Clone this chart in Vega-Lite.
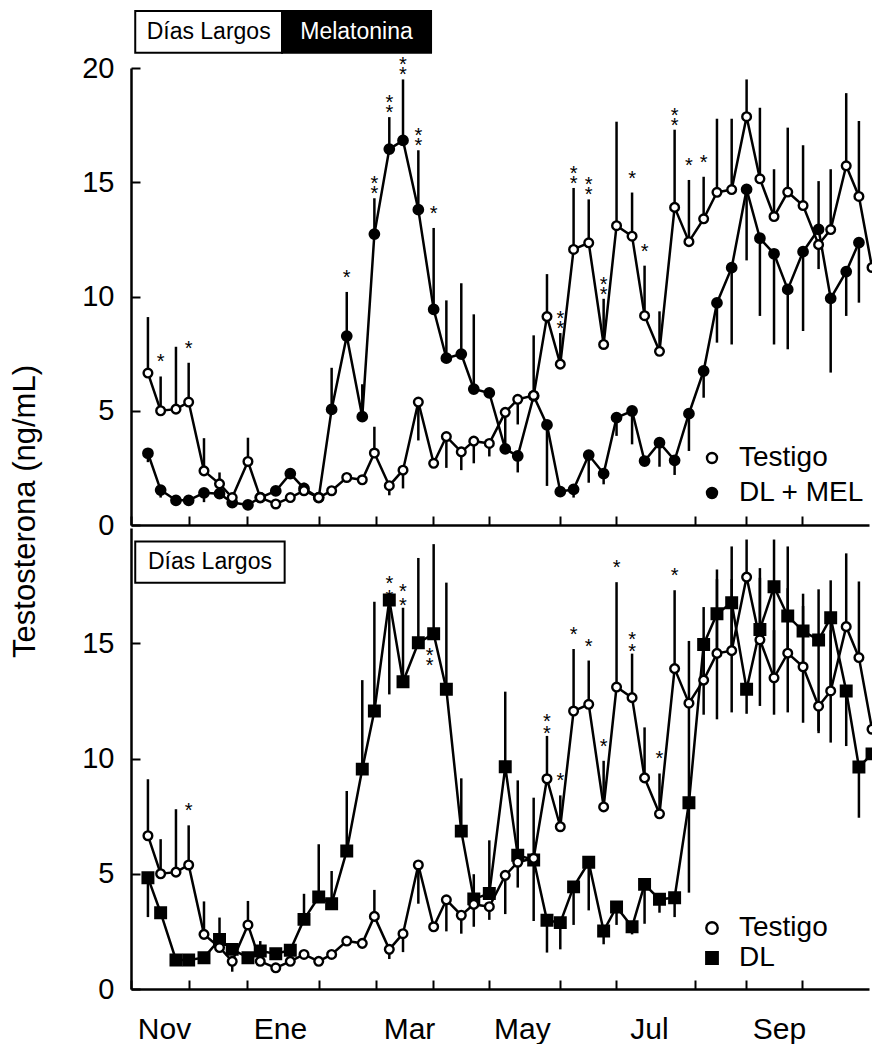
{
"$schema": "https://vega.github.io/schema/vega-lite/v6.json",
"autosize": {"type": "pad"},
"padding": {"left": 9, "top": 10, "right": 0, "bottom": 0},
"background": "white",
"config": {
  "font": "Liberation Sans",
  "view": {"stroke": null},
  "axis": {"grid": false, "domainColor": "black", "domainWidth": 2.5, "tickColor": "black", "tickWidth": 2, "labelColor": "black", "labelFont": "Liberation Sans", "labelFontWeight": "normal", "titleFont": "Liberation Sans", "titleFontWeight": "normal", "titleColor": "black"},
  "legend": {"labelFont": "Liberation Sans", "labelFontSize": 28, "labelColor": "black", "symbolStrokeColor": "black", "symbolStrokeWidth": 2.4, "symbolOpacity": 1, "padding": 0, "offset": 0, "title": null}
},
"bounds": "flush",
"spacing": 3,
"resolve": {"scale": {"fill": "independent", "shape": "independent", "stroke": "independent"}, "legend": {"fill": "independent", "shape": "independent", "stroke": "independent"}},
"datasets": {
"testigo": [
{"series":"Testigo","day":8.4,"value":6.65,"lo":6.65,"hi":9.1},
{"series":"Testigo","day":14.7,"value":5.0,"lo":5.0,"hi":6.5,"sig_mel":"*"},
{"series":"Testigo","day":22.3,"value":5.07,"lo":5.07,"hi":7.8},
{"series":"Testigo","day":28.6,"value":5.38,"lo":5.38,"hi":7.1,"sig_mel":"*","sig_dl":"*"},
{"series":"Testigo","day":36.2,"value":2.37,"lo":2.37,"hi":3.8},
{"series":"Testigo","day":43.9,"value":1.8,"lo":1.8,"hi":2.3},
{"series":"Testigo","day":50.2,"value":1.2,"lo":0.75,"hi":1.2},
{"series":"Testigo","day":58.0,"value":2.78,"lo":2.78,"hi":3.82},
{"series":"Testigo","day":64.1,"value":1.2,"lo":1.2,"hi":1.2},
{"series":"Testigo","day":71.8,"value":0.92,"lo":0.92,"hi":0.92},
{"series":"Testigo","day":79.0,"value":1.2,"lo":1.2,"hi":1.2},
{"series":"Testigo","day":85.8,"value":1.5,"lo":1.5,"hi":1.5},
{"series":"Testigo","day":93.1,"value":1.2,"lo":1.2,"hi":1.2},
{"series":"Testigo","day":99.5,"value":1.5,"lo":1.5,"hi":1.5},
{"series":"Testigo","day":107.0,"value":2.08,"lo":2.08,"hi":2.08},
{"series":"Testigo","day":114.7,"value":1.98,"lo":1.98,"hi":1.98},
{"series":"Testigo","day":120.7,"value":3.15,"lo":3.15,"hi":4.3},
{"series":"Testigo","day":128.1,"value":1.72,"lo":1.3,"hi":1.72},
{"series":"Testigo","day":134.9,"value":2.4,"lo":1.6,"hi":2.4},
{"series":"Testigo","day":142.5,"value":5.38,"lo":3.7,"hi":5.38},
{"series":"Testigo","day":150.1,"value":2.7,"lo":2.7,"hi":2.7},
{"series":"Testigo","day":156.4,"value":3.87,"lo":2.5,"hi":3.87},
{"series":"Testigo","day":163.8,"value":3.2,"lo":2.4,"hi":3.2},
{"series":"Testigo","day":170.0,"value":3.67,"lo":2.7,"hi":3.67},
{"series":"Testigo","day":177.7,"value":3.57,"lo":3.0,"hi":3.57},
{"series":"Testigo","day":185.6,"value":4.93,"lo":3.25,"hi":4.93},
{"series":"Testigo","day":191.8,"value":5.5,"lo":4.4,"hi":5.5},
{"series":"Testigo","day":199.7,"value":5.67,"lo":5.67,"hi":8.3},
{"series":"Testigo","day":206.3,"value":9.12,"lo":9.12,"hi":10.98,"sig_dl":"**"},
{"series":"Testigo","day":212.9,"value":7.04,"lo":7.04,"hi":8.4,"sig_mel":"**","sig_dl":"*"},
{"series":"Testigo","day":219.5,"value":12.06,"lo":12.06,"hi":14.75,"sig_mel":"**","sig_dl":"*"},
{"series":"Testigo","day":227.0,"value":12.35,"lo":12.35,"hi":14.25,"sig_mel":"**","sig_dl":"*"},
{"series":"Testigo","day":234.4,"value":7.9,"lo":7.9,"hi":9.9,"sig_mel":"**","sig_dl":"*"},
{"series":"Testigo","day":240.8,"value":13.1,"lo":13.1,"hi":17.65,"sig_dl":"*"},
{"series":"Testigo","day":248.5,"value":12.64,"lo":12.64,"hi":14.55,"sig_mel":"*","sig_dl":"**"},
{"series":"Testigo","day":254.7,"value":9.16,"lo":9.16,"hi":11.35,"sig_mel":"*"},
{"series":"Testigo","day":262.1,"value":7.6,"lo":7.6,"hi":9.35,"sig_dl":"*"},
{"series":"Testigo","day":269.6,"value":13.9,"lo":13.9,"hi":17.3,"sig_mel":"**","sig_dl":"*"},
{"series":"Testigo","day":276.7,"value":12.4,"lo":12.4,"hi":15.1,"sig_mel":"*"},
{"series":"Testigo","day":284.0,"value":13.4,"lo":13.4,"hi":15.24,"sig_mel":"*"},
{"series":"Testigo","day":290.6,"value":14.56,"lo":14.56,"hi":17.78},
{"series":"Testigo","day":297.9,"value":14.68,"lo":14.68,"hi":17.78},
{"series":"Testigo","day":305.3,"value":17.87,"lo":17.87,"hi":19.5},
{"series":"Testigo","day":311.9,"value":15.15,"lo":15.15,"hi":18.26},
{"series":"Testigo","day":318.9,"value":13.5,"lo":13.5,"hi":15.57},
{"series":"Testigo","day":325.7,"value":14.57,"lo":14.57,"hi":17.39},
{"series":"Testigo","day":333.3,"value":13.98,"lo":13.98,"hi":16.62},
{"series":"Testigo","day":341.0,"value":12.27,"lo":11.2,"hi":12.27},
{"series":"Testigo","day":347.0,"value":12.93,"lo":12.93,"hi":15.57},
{"series":"Testigo","day":354.7,"value":15.72,"lo":15.72,"hi":18.9},
{"series":"Testigo","day":361.0,"value":14.38,"lo":14.38,"hi":17.68},
{"series":"Testigo","day":367.5,"value":11.27,"lo":11.27,"hi":11.27}
],
"dlmel": [
{"series":"DL + MEL","day":8.4,"value":3.14,"lo":2.75,"hi":3.14},
{"series":"DL + MEL","day":14.7,"value":1.53,"lo":1.2,"hi":1.53},
{"series":"DL + MEL","day":22.3,"value":1.08,"lo":1.08,"hi":1.08},
{"series":"DL + MEL","day":28.6,"value":1.08,"lo":1.08,"hi":1.08},
{"series":"DL + MEL","day":36.2,"value":1.41,"lo":1.0,"hi":1.41},
{"series":"DL + MEL","day":43.9,"value":1.37,"lo":1.37,"hi":1.37},
{"series":"DL + MEL","day":50.2,"value":0.98,"lo":0.98,"hi":0.98},
{"series":"DL + MEL","day":58.0,"value":0.88,"lo":0.88,"hi":0.88},
{"series":"DL + MEL","day":64.1,"value":1.2,"lo":1.2,"hi":1.2},
{"series":"DL + MEL","day":71.8,"value":1.49,"lo":1.49,"hi":1.49},
{"series":"DL + MEL","day":79.0,"value":2.25,"lo":2.25,"hi":2.25},
{"series":"DL + MEL","day":85.8,"value":1.6,"lo":1.6,"hi":1.85},
{"series":"DL + MEL","day":93.1,"value":1.2,"lo":1.2,"hi":1.2},
{"series":"DL + MEL","day":99.5,"value":5.06,"lo":5.06,"hi":6.88},
{"series":"DL + MEL","day":107.0,"value":8.27,"lo":8.27,"hi":10.2,"sig":"*"},
{"series":"DL + MEL","day":114.7,"value":4.74,"lo":4.74,"hi":6.16},
{"series":"DL + MEL","day":120.7,"value":12.73,"lo":12.73,"hi":14.3,"sig":"**"},
{"series":"DL + MEL","day":128.1,"value":16.45,"lo":16.45,"hi":17.85,"sig":"**"},
{"series":"DL + MEL","day":134.9,"value":16.83,"lo":16.83,"hi":19.5,"sig":"**"},
{"series":"DL + MEL","day":142.5,"value":13.8,"lo":13.8,"hi":16.4,"sig":"**"},
{"series":"DL + MEL","day":150.1,"value":9.44,"lo":9.44,"hi":13.0,"sig":"*"},
{"series":"DL + MEL","day":156.4,"value":7.3,"lo":7.3,"hi":9.83},
{"series":"DL + MEL","day":163.8,"value":7.48,"lo":7.48,"hi":10.58},
{"series":"DL + MEL","day":170.0,"value":5.95,"lo":5.95,"hi":9.22},
{"series":"DL + MEL","day":177.7,"value":5.78,"lo":5.78,"hi":5.78},
{"series":"DL + MEL","day":185.6,"value":3.33,"lo":3.33,"hi":3.33},
{"series":"DL + MEL","day":191.8,"value":3.02,"lo":2.3,"hi":3.02},
{"series":"DL + MEL","day":199.7,"value":5.65,"lo":5.65,"hi":5.65},
{"series":"DL + MEL","day":206.3,"value":4.38,"lo":1.71,"hi":4.38},
{"series":"DL + MEL","day":212.9,"value":1.46,"lo":1.46,"hi":1.46},
{"series":"DL + MEL","day":219.5,"value":1.56,"lo":1.2,"hi":1.56},
{"series":"DL + MEL","day":227.0,"value":3.06,"lo":1.85,"hi":3.06},
{"series":"DL + MEL","day":234.4,"value":2.25,"lo":1.78,"hi":2.25},
{"series":"DL + MEL","day":240.8,"value":4.7,"lo":3.9,"hi":4.7},
{"series":"DL + MEL","day":248.5,"value":4.99,"lo":3.53,"hi":4.99},
{"series":"DL + MEL","day":254.7,"value":2.8,"lo":2.8,"hi":2.8},
{"series":"DL + MEL","day":262.1,"value":3.6,"lo":2.55,"hi":3.6},
{"series":"DL + MEL","day":269.6,"value":2.83,"lo":2.19,"hi":2.83},
{"series":"DL + MEL","day":276.7,"value":4.87,"lo":3.24,"hi":4.87},
{"series":"DL + MEL","day":284.0,"value":6.74,"lo":5.57,"hi":6.74},
{"series":"DL + MEL","day":290.6,"value":9.72,"lo":7.98,"hi":9.72},
{"series":"DL + MEL","day":297.9,"value":11.26,"lo":7.9,"hi":11.26},
{"series":"DL + MEL","day":305.3,"value":14.69,"lo":11.58,"hi":14.69},
{"series":"DL + MEL","day":311.9,"value":12.55,"lo":9.15,"hi":12.55},
{"series":"DL + MEL","day":318.9,"value":11.87,"lo":7.9,"hi":11.87},
{"series":"DL + MEL","day":325.7,"value":10.31,"lo":7.69,"hi":10.31},
{"series":"DL + MEL","day":333.3,"value":11.96,"lo":8.49,"hi":11.96},
{"series":"DL + MEL","day":341.0,"value":12.94,"lo":12.94,"hi":15.05},
{"series":"DL + MEL","day":347.0,"value":9.92,"lo":6.67,"hi":9.92},
{"series":"DL + MEL","day":354.7,"value":11.09,"lo":9.15,"hi":11.09},
{"series":"DL + MEL","day":361.0,"value":12.36,"lo":9.73,"hi":12.36}
],
"dl": [
{"series":"DL","day":8.4,"value":4.83,"lo":3.12,"hi":4.83},
{"series":"DL","day":14.7,"value":3.31,"lo":3.31,"hi":3.31},
{"series":"DL","day":22.3,"value":1.26,"lo":1.26,"hi":1.26},
{"series":"DL","day":28.6,"value":1.26,"lo":1.26,"hi":1.26},
{"series":"DL","day":36.2,"value":1.36,"lo":1.36,"hi":1.36},
{"series":"DL","day":43.9,"value":2.15,"lo":2.15,"hi":3.1},
{"series":"DL","day":50.2,"value":1.72,"lo":1.72,"hi":1.72},
{"series":"DL","day":58.0,"value":1.36,"lo":1.36,"hi":1.36},
{"series":"DL","day":64.1,"value":1.65,"lo":1.65,"hi":2.08},
{"series":"DL","day":71.8,"value":1.53,"lo":1.53,"hi":1.53},
{"series":"DL","day":79.0,"value":1.68,"lo":1.68,"hi":1.68},
{"series":"DL","day":85.8,"value":3.02,"lo":3.02,"hi":4.13},
{"series":"DL","day":93.1,"value":3.99,"lo":3.99,"hi":6.28},
{"series":"DL","day":99.5,"value":3.7,"lo":3.7,"hi":5.12},
{"series":"DL","day":107.0,"value":5.99,"lo":5.99,"hi":8.59},
{"series":"DL","day":114.7,"value":9.54,"lo":9.54,"hi":13.4},
{"series":"DL","day":120.7,"value":12.06,"lo":12.06,"hi":16.8},
{"series":"DL","day":128.1,"value":16.88,"lo":12.78,"hi":16.88,"sig":"**"},
{"series":"DL","day":134.9,"value":13.33,"lo":13.33,"hi":16.54,"sig":"**"},
{"series":"DL","day":142.5,"value":15.02,"lo":15.02,"hi":18.7},
{"series":"DL","day":150.1,"value":15.41,"lo":15.41,"hi":19.3,"sig_low":"**"},
{"series":"DL","day":156.4,"value":13.0,"lo":13.0,"hi":17.63},
{"series":"DL","day":163.8,"value":6.85,"lo":6.85,"hi":9.14},
{"series":"DL","day":170.0,"value":3.91,"lo":3.91,"hi":4.98},
{"series":"DL","day":177.7,"value":4.14,"lo":4.14,"hi":6.45},
{"series":"DL","day":185.6,"value":9.64,"lo":9.64,"hi":12.9},
{"series":"DL","day":191.8,"value":5.8,"lo":5.8,"hi":9.05},
{"series":"DL","day":199.7,"value":5.6,"lo":2.95,"hi":5.6},
{"series":"DL","day":206.3,"value":2.98,"lo":1.58,"hi":2.98},
{"series":"DL","day":212.9,"value":2.88,"lo":1.72,"hi":2.88},
{"series":"DL","day":219.5,"value":4.43,"lo":2.78,"hi":4.43},
{"series":"DL","day":227.0,"value":5.5,"lo":3.41,"hi":5.5},
{"series":"DL","day":234.4,"value":2.52,"lo":1.94,"hi":2.52},
{"series":"DL","day":240.8,"value":3.56,"lo":2.78,"hi":3.56},
{"series":"DL","day":248.5,"value":2.7,"lo":2.37,"hi":2.7},
{"series":"DL","day":254.7,"value":4.54,"lo":2.83,"hi":4.54},
{"series":"DL","day":262.1,"value":3.89,"lo":3.31,"hi":3.89},
{"series":"DL","day":269.6,"value":3.96,"lo":3.12,"hi":3.96},
{"series":"DL","day":276.7,"value":8.08,"lo":4.18,"hi":12.3},
{"series":"DL","day":284.0,"value":14.95,"lo":11.9,"hi":16.57},
{"series":"DL","day":290.6,"value":16.28,"lo":11.7,"hi":18.2},
{"series":"DL","day":297.9,"value":16.76,"lo":12.0,"hi":19.2},
{"series":"DL","day":305.3,"value":13.0,"lo":11.94,"hi":13.0},
{"series":"DL","day":311.9,"value":15.6,"lo":12.28,"hi":17.84},
{"series":"DL","day":318.9,"value":17.45,"lo":11.9,"hi":19.5},
{"series":"DL","day":325.7,"value":16.18,"lo":12.0,"hi":19.2},
{"series":"DL","day":333.3,"value":15.53,"lo":11.55,"hi":17.15},
{"series":"DL","day":341.0,"value":15.14,"lo":11.1,"hi":17.34},
{"series":"DL","day":347.0,"value":16.11,"lo":10.69,"hi":17.73},
{"series":"DL","day":354.7,"value":12.93,"lo":10.54,"hi":12.93},
{"series":"DL","day":361.0,"value":9.63,"lo":7.43,"hi":9.63},
{"series":"DL","day":367.5,"value":10.2,"lo":10.2,"hi":10.2}
],
"periods_top": [
{"label":"Días Largos","start":2.1,"end":74.9},
{"label":"Melatonina","start":74.9,"end":148.8}
],
"periods_bottom": [
{"label":"Días Largos","start":2.1,"end":76.2}
]
},
"vconcat": [
{
 "width": 738, "height": 457,
 "layer": [
  {
   "encoding": {
     "x": {"field":"day","type":"quantitative","scale":{"domain":[0,366]},
           "axis":{"values":[0,28.8,57.5,93.2,121.5,149.8,177.5,212.8,240.5,279.7,305,332.8],"labels":false,"tickSize":-9,"title":null}},
     "y": {"field":"value","type":"quantitative","scale":{"domain":[0,20]},"title":"Testosterona (ng/mL)",
           "axis":{"values":[0,5,10,15,20],"tickSize":-9,"labelPadding":26,"labelFontSize":29,"titleFontSize":31,"titleAngle":-90,"titleX":-97,"titleY":443,"titleAlign":"center","titleBaseline":"alphabetic"}}
   },
   "layer": [
    {"data":{"name":"testigo"},"mark":{"type":"rule","color":"black","strokeWidth":2.5},
     "encoding":{"y":{"field":"lo","type":"quantitative","scale":{"domain":[0,20]},"title":"Testosterona (ng/mL)"},"y2":{"field":"hi"}}},
    {"data":{"name":"dlmel"},"mark":{"type":"rule","color":"black","strokeWidth":2.5},
     "encoding":{"y":{"field":"lo","type":"quantitative","scale":{"domain":[0,20]},"title":"Testosterona (ng/mL)"},"y2":{"field":"hi"}}},
    {"data":{"name":"dlmel"},"mark":{"type":"line","color":"black","strokeWidth":2.5},"encoding":{}},
    {"data":{"name":"testigo"},"mark":{"type":"line","color":"black","strokeWidth":2.5},"encoding":{}},
    {"data":{"name":"dlmel"},"mark":{"type":"point","shape":"circle","filled":true,"size":95,"stroke":"black","strokeWidth":2,"opacity":1},
     "encoding":{"fill":{"field":"series","type":"nominal","scale":{"domain":["Testigo","DL + MEL"],"range":["white","black"]},
       "legend":{"orient":"none","legendX":567,"legendY":376,"symbolType":"circle","symbolSize":100,"rowPadding":7,"labelOffset":13,"symbolStrokeColor":"black"}}}},
    {"data":{"name":"testigo"},"mark":{"type":"point","shape":"circle","filled":true,"size":75,"stroke":"black","strokeWidth":2.4,"opacity":1},
     "encoding":{"fill":{"field":"series","type":"nominal","scale":{"domain":["Testigo","DL + MEL"],"range":["white","black"]},
       "legend":{"orient":"none","legendX":567,"legendY":376,"symbolType":"circle","symbolSize":100,"rowPadding":7,"labelOffset":13,"symbolStrokeColor":"black"}}}},
    {"data":{"name":"testigo"},"transform":[{"filter":"datum.sig_mel"},{"calculate":"split(datum.sig_mel, '')","as":"stars"}],
     "mark":{"type":"text","fontSize":20,"lineHeight":10,"baseline":"bottom","dy":-4,"color":"black"},
     "encoding":{"y":{"field":"hi","type":"quantitative","scale":{"domain":[0,20]},"title":"Testosterona (ng/mL)"},"text":{"field":"stars"}}},
    {"data":{"name":"dlmel"},"transform":[{"filter":"datum.sig"},{"calculate":"split(datum.sig, '')","as":"stars"}],
     "mark":{"type":"text","fontSize":20,"lineHeight":10,"baseline":"bottom","dy":-4,"color":"black"},
     "encoding":{"y":{"field":"hi","type":"quantitative","scale":{"domain":[0,20]},"title":"Testosterona (ng/mL)"},"text":{"field":"stars"}}}
   ]
  },
  {"data":{"name":"periods_top"},"mark":{"type":"rect","stroke":"black","strokeWidth":2,"clip":false},
   "encoding":{"x":{"field":"start","type":"quantitative","scale":{"domain":[0,366]},"title":null},"x2":{"field":"end"},
     "y":{"datum":22.49,"type":"quantitative","scale":{"domain":[0,20]},"title":"Testosterona (ng/mL)"},"y2":{"datum":20.67},
     "color":{"condition":{"test":"datum.label == 'Melatonina'","value":"black"},"value":"white"}}},
  {"data":{"name":"periods_top"},"transform":[{"calculate":"(datum.start + datum.end) / 2","as":"mid"}],
   "mark":{"type":"text","fontSize":23,"baseline":"middle","align":"center","clip":false},
   "encoding":{"x":{"field":"mid","type":"quantitative","scale":{"domain":[0,366]},"title":null},
     "y":{"datum":21.58,"type":"quantitative","scale":{"domain":[0,20]},"title":"Testosterona (ng/mL)"},
     "text":{"field":"label"},
     "color":{"condition":{"test":"datum.label == 'Melatonina'","value":"white"},"value":"black"}}}
 ]
},
{
 "width": 738, "height": 461,
 "layer": [
  {
   "encoding": {
     "x": {"field":"day","type":"quantitative","scale":{"domain":[0,366]},
           "axis":{"values":[0,28.8,57.5,93.2,121.5,149.8,177.5,212.8,240.5,279.7,305,332.8],"tickSize":-9,"labelPadding":34,"labelFontSize":30,"labelOffset":33,"labelFlush":false,"labelOverlap":false,"labelBound":false,"labelAlign":"center","labelBaseline":"top",
             "labelExpr":"datum.value == 0 ? 'Nov' : datum.value == 57.5 ? 'Ene' : datum.value == 121.5 ? 'Mar' : datum.value == 177.5 ? 'May' : datum.value == 240.5 ? 'Jul' : datum.value == 305 ? 'Sep' : ''","title":null}},
     "y": {"field":"value","type":"quantitative","scale":{"domain":[0,20]},
           "axis":{"values":[0,5,10,15],"tickSize":-9,"labelPadding":26,"labelFontSize":29,"title":null}}
   },
   "layer": [
    {"data":{"name":"testigo"},"mark":{"type":"rule","color":"black","strokeWidth":2.5},
     "encoding":{"y":{"field":"lo","type":"quantitative","scale":{"domain":[0,20]}},"y2":{"field":"hi"}}},
    {"data":{"name":"dl"},"mark":{"type":"rule","color":"black","strokeWidth":2.5},
     "encoding":{"y":{"field":"lo","type":"quantitative","scale":{"domain":[0,20]}},"y2":{"field":"hi"}}},
    {"data":{"name":"dl"},"mark":{"type":"line","color":"black","strokeWidth":2.5},"encoding":{}},
    {"data":{"name":"testigo"},"mark":{"type":"line","color":"black","strokeWidth":2.5},"encoding":{}},
    {"data":{"name":"dl"},"mark":{"type":"point","filled":true,"size":120,"strokeWidth":2,"opacity":1},
     "encoding":{
       "fill":{"field":"series","type":"nominal","scale":{"domain":["Testigo","DL"],"range":["white","black"]},
         "legend":{"orient":"none","legendX":567,"legendY":386,"symbolSize":130,"rowPadding":2,"labelOffset":13,"symbolStrokeWidth":2.4}},
       "stroke":{"field":"series","type":"nominal","scale":{"domain":["Testigo","DL"],"range":["black","black"]},
         "legend":{"orient":"none","legendX":567,"legendY":386,"symbolSize":130,"rowPadding":2,"labelOffset":13,"symbolStrokeWidth":2.4}},
       "shape":{"field":"series","type":"nominal","scale":{"domain":["Testigo","DL"],"range":["circle","square"]},
         "legend":{"orient":"none","legendX":567,"legendY":386,"symbolSize":130,"rowPadding":2,"labelOffset":13,"symbolStrokeWidth":2.4}}}},
    {"data":{"name":"testigo"},"mark":{"type":"point","filled":true,"size":75,"strokeWidth":2.4,"opacity":1},
     "encoding":{
       "fill":{"field":"series","type":"nominal","scale":{"domain":["Testigo","DL"],"range":["white","black"]},
         "legend":{"orient":"none","legendX":567,"legendY":386,"symbolSize":130,"rowPadding":2,"labelOffset":13,"symbolStrokeWidth":2.4}},
       "stroke":{"field":"series","type":"nominal","scale":{"domain":["Testigo","DL"],"range":["black","black"]},
         "legend":{"orient":"none","legendX":567,"legendY":386,"symbolSize":130,"rowPadding":2,"labelOffset":13,"symbolStrokeWidth":2.4}},
       "shape":{"field":"series","type":"nominal","scale":{"domain":["Testigo","DL"],"range":["circle","square"]},
         "legend":{"orient":"none","legendX":567,"legendY":386,"symbolSize":130,"rowPadding":2,"labelOffset":13,"symbolStrokeWidth":2.4}}}},
    {"data":{"name":"testigo"},"transform":[{"filter":"datum.sig_dl"},{"calculate":"split(datum.sig_dl, '')","as":"stars"}],
     "mark":{"type":"text","fontSize":20,"lineHeight":12,"baseline":"bottom","dy":-4,"color":"black"},
     "encoding":{"y":{"field":"hi","type":"quantitative","scale":{"domain":[0,20]}},"text":{"field":"stars"}}},
    {"data":{"name":"dl"},"transform":[{"filter":"datum.sig"},{"calculate":"split(datum.sig, '')","as":"stars"}],
     "mark":{"type":"text","fontSize":20,"lineHeight":14,"baseline":"bottom","dy":-6,"color":"black"},
     "encoding":{"y":{"field":"hi","type":"quantitative","scale":{"domain":[0,20]}},"text":{"field":"stars"}}},
    {"data":{"name":"dl"},"transform":[{"filter":"datum.sig_low"},{"calculate":"split(datum.sig_low, '')","as":"stars"}],
     "mark":{"type":"text","fontSize":20,"lineHeight":10,"baseline":"top","dy":12,"dx":-4,"color":"black"},
     "encoding":{"y":{"field":"value","type":"quantitative","scale":{"domain":[0,20]}},"text":{"field":"stars"}}}
   ]
  },
  {"data":{"name":"periods_bottom"},"mark":{"type":"rect","stroke":"black","strokeWidth":2,"fill":"white","clip":false},
   "encoding":{"x":{"field":"start","type":"quantitative","scale":{"domain":[0,366]},"title":null},"x2":{"field":"end"},
     "y":{"datum":19.41,"type":"quantitative","scale":{"domain":[0,20]},"title":null},"y2":{"datum":17.63}}},
  {"data":{"name":"periods_bottom"},"transform":[{"calculate":"(datum.start + datum.end) / 2","as":"mid"}],
   "mark":{"type":"text","fontSize":23,"baseline":"middle","align":"center","color":"black","clip":false},
   "encoding":{"x":{"field":"mid","type":"quantitative","scale":{"domain":[0,366]},"title":null},
     "y":{"datum":18.52,"type":"quantitative","scale":{"domain":[0,20]},"title":null},
     "text":{"field":"label"}}}
 ]
}
]
}
